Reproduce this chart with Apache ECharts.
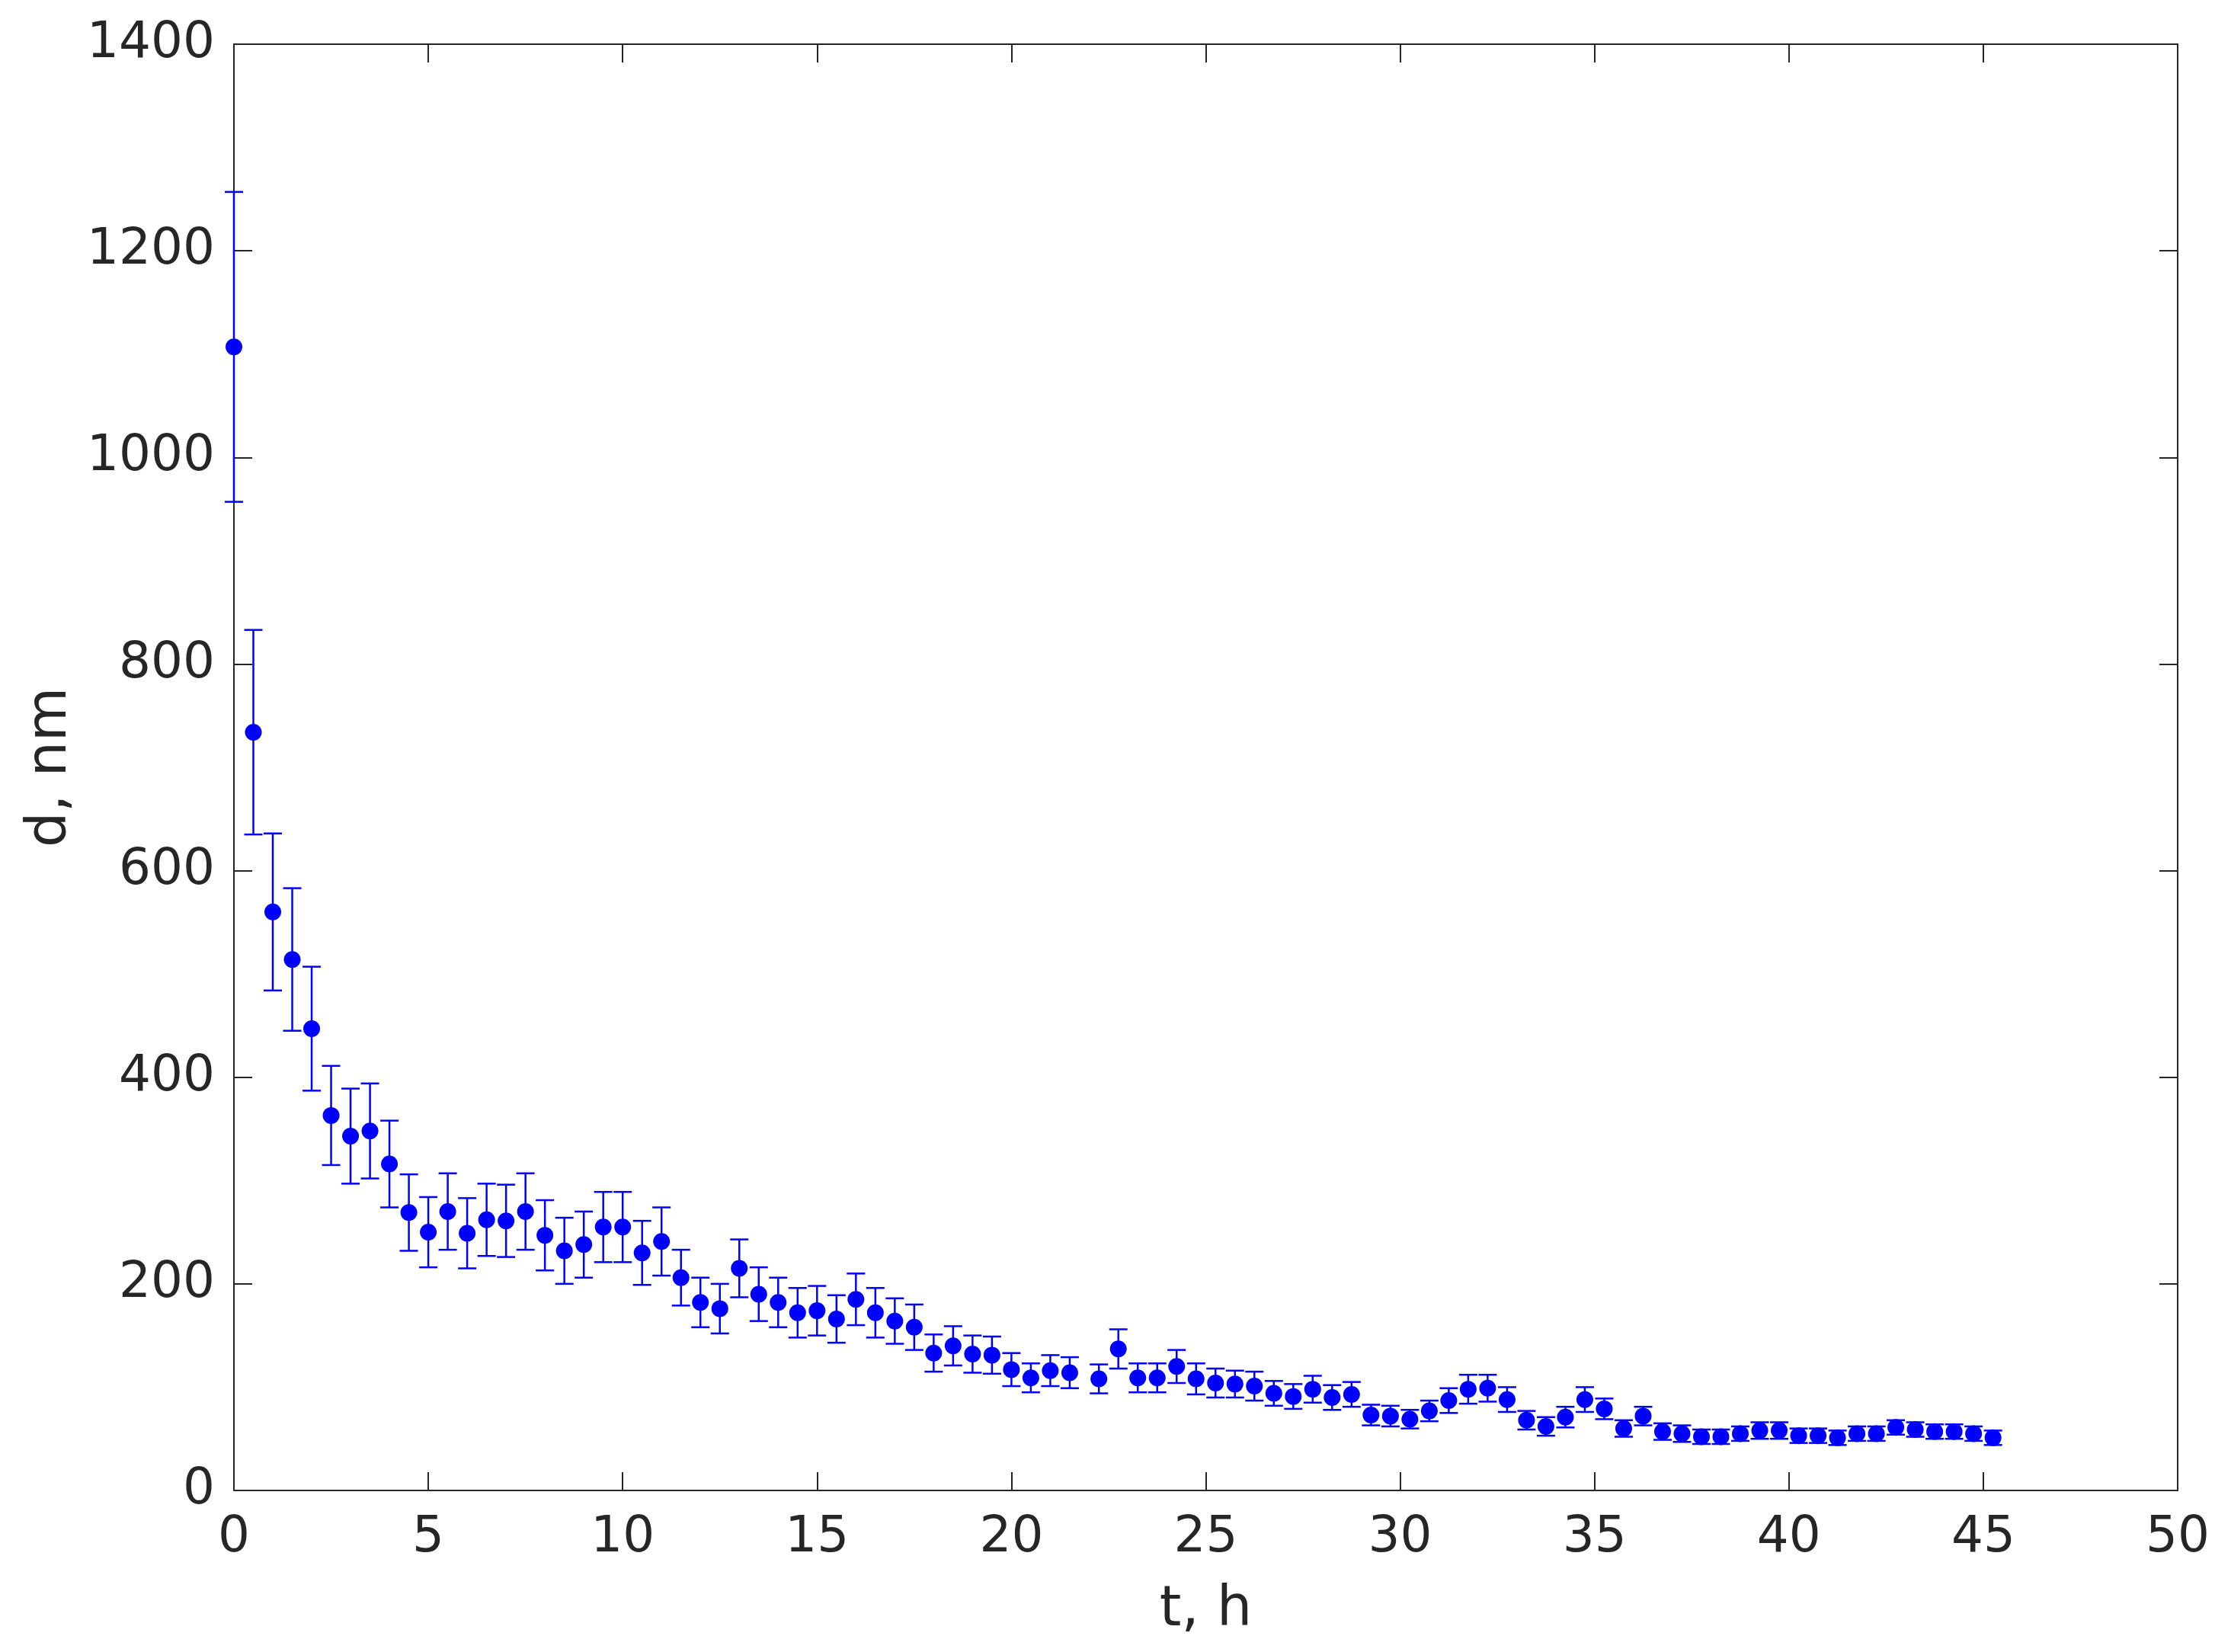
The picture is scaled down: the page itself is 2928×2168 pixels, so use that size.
<!DOCTYPE html>
<html>
<head>
<meta charset="utf-8">
<script src="https://cdn.jsdelivr.net/npm/echarts@6/dist/echarts.min.js"></script>
<style>
html,body{margin:0;padding:0;background:#fff;}
#chart{width:2928px;height:2168px;}
</style>
</head>
<body>
<div id="chart"></div>
<script>
// time, h
var tValues = [
  0, 0.5, 1, 1.5, 2, 2.5, 3, 3.5, 4, 4.5, 5, 5.5, 6, 6.5, 7, 7.5, 8, 8.5, 9, 9.5,
  10, 10.5, 11, 11.5, 12, 12.5, 13, 13.5, 14, 14.5, 15, 15.5, 16, 16.5, 17, 17.5,
  18, 18.5, 19, 19.5, 20, 20.5, 21, 21.5,
  22.25, 22.75, 23.25, 23.75, 24.25, 24.75, 25.25, 25.75, 26.25, 26.75, 27.25, 27.75,
  28.25, 28.75, 29.25, 29.75, 30.25, 30.75, 31.25, 31.75, 32.25, 32.75, 33.25, 33.75,
  34.25, 34.75, 35.25, 35.75, 36.25, 36.75, 37.25, 37.75, 38.25, 38.75, 39.25, 39.75,
  40.25, 40.75, 41.25, 41.75, 42.25, 42.75, 43.25, 43.75, 44.25, 44.75, 45.25
];
// diameter, nm
var dValues = [
  1107, 734, 560, 514, 447, 363, 343, 348, 316, 269, 250, 270, 249, 262, 261, 270, 247, 232, 238, 255,
  255, 230, 241, 206, 182, 176, 215, 190, 182, 172, 174, 166, 185, 172, 164, 158,
  133, 140, 132, 131, 117, 109, 116, 114,
  108, 137, 109, 109, 120, 108, 104, 103, 101, 94, 91, 98,
  90, 93, 73, 72, 69, 77, 87, 98, 99, 88, 68, 62,
  71, 88, 79, 60, 72, 57, 55, 52, 52, 55, 58, 58,
  53, 53, 51, 55, 55, 61, 59, 57, 57, 55, 51
];
// error (half-length of error bar), nm
var errValues = [
  150, 99, 76, 69, 60, 48, 46, 46, 42, 37, 34, 37, 34, 35, 35, 37, 34, 32, 32, 34,
  34, 31, 33, 27, 24, 24, 28, 26, 24, 24, 24, 23, 25, 24, 22, 22,
  18, 19, 18, 18, 16, 14, 15, 15,
  14, 19, 14, 14, 16, 15, 14, 13, 14, 12, 12, 13,
  12, 12, 10, 10, 9, 10, 12, 14, 13, 12, 9, 9,
  10, 12, 10, 8, 9, 8, 8, 7, 7, 7, 8, 8,
  7, 7, 7, 7, 7, 7, 7, 7, 7, 7, 7
];
var xTicks = [0, 5, 10, 15, 20, 25, 30, 35, 40, 45, 50];
var yTicks = [0, 200, 400, 600, 800, 1000, 1200, 1400];
var xTitle = 't, h';
var yTitle = 'd, nm';

var pointData = tValues.map(function (t, i) { return [t, dValues[i]]; });
var errData = tValues.map(function (t, i) { return [t, dValues[i] - errValues[i], dValues[i] + errValues[i]]; });

var axisColor = '#262626';
var fontFam = 'DejaVu Sans';
var blue = '#0000ff';

function plainFmt(v) { return String(v); }

function baseX(pos, showLabel) {
  return {
    type: 'value', position: pos, min: xTicks[0], max: xTicks[xTicks.length - 1],
    interval: xTicks[1] - xTicks[0],
    axisLine: { show: true, onZero: false, lineStyle: { color: axisColor, width: 2 } },
    axisTick: { show: true, inside: true, length: 24, lineStyle: { color: axisColor, width: 2 } },
    axisLabel: { show: showLabel, color: axisColor, fontSize: 66, fontFamily: fontFam, margin: 30, formatter: plainFmt },
    splitLine: { show: false }
  };
}
function baseY(pos, showLabel) {
  return {
    type: 'value', position: pos, min: yTicks[0], max: yTicks[yTicks.length - 1],
    interval: yTicks[1] - yTicks[0],
    axisLine: { show: true, onZero: false, lineStyle: { color: axisColor, width: 2 } },
    axisTick: { show: true, inside: true, length: 24, lineStyle: { color: axisColor, width: 2 } },
    axisLabel: { show: showLabel, color: axisColor, fontSize: 66, fontFamily: fontFam, margin: 25, formatter: plainFmt },
    splitLine: { show: false }
  };
}

var xb = baseX('bottom', true);
xb.name = xTitle; xb.nameLocation = 'middle'; xb.nameGap = 122;
xb.nameTextStyle = { color: axisColor, fontSize: 73, fontFamily: fontFam };
var yl = baseY('left', true);
yl.name = yTitle; yl.nameLocation = 'middle'; yl.nameGap = 196;
yl.nameTextStyle = { color: axisColor, fontSize: 73, fontFamily: fontFam };

var chart = echarts.init(document.getElementById('chart'), null, { renderer: 'canvas' });
chart.setOption({
  backgroundColor: '#ffffff',
  animation: false,
  grid: { left: 307, right: 70, top: 58, bottom: 212, containLabel: false },
  xAxis: [xb, baseX('top', false)],
  yAxis: [yl, baseY('right', false)],
  series: [
    {
      type: 'custom',
      xAxisIndex: 0, yAxisIndex: 0,
      data: errData,
      clip: false,
      renderItem: function (params, api) {
        var t = api.value(0);
        var lo = api.coord([t, api.value(1)]);
        var hi = api.coord([t, api.value(2)]);
        var cw = 12;
        var st = { stroke: blue, lineWidth: 2.5, fill: null };
        return {
          type: 'group',
          children: [
            { type: 'line', shape: { x1: lo[0], y1: lo[1], x2: hi[0], y2: hi[1] }, style: st },
            { type: 'line', shape: { x1: hi[0] - cw, y1: hi[1], x2: hi[0] + cw, y2: hi[1] }, style: st },
            { type: 'line', shape: { x1: lo[0] - cw, y1: lo[1], x2: lo[0] + cw, y2: lo[1] }, style: st }
          ]
        };
      },
      encode: { x: 0, y: [1, 2] },
      z: 2
    },
    {
      type: 'scatter',
      xAxisIndex: 0, yAxisIndex: 0,
      data: pointData,
      symbol: 'circle',
      symbolSize: 22,
      clip: false,
      itemStyle: { color: blue, opacity: 1 },
      z: 3
    }
  ]
});
</script>
</body>
</html>
